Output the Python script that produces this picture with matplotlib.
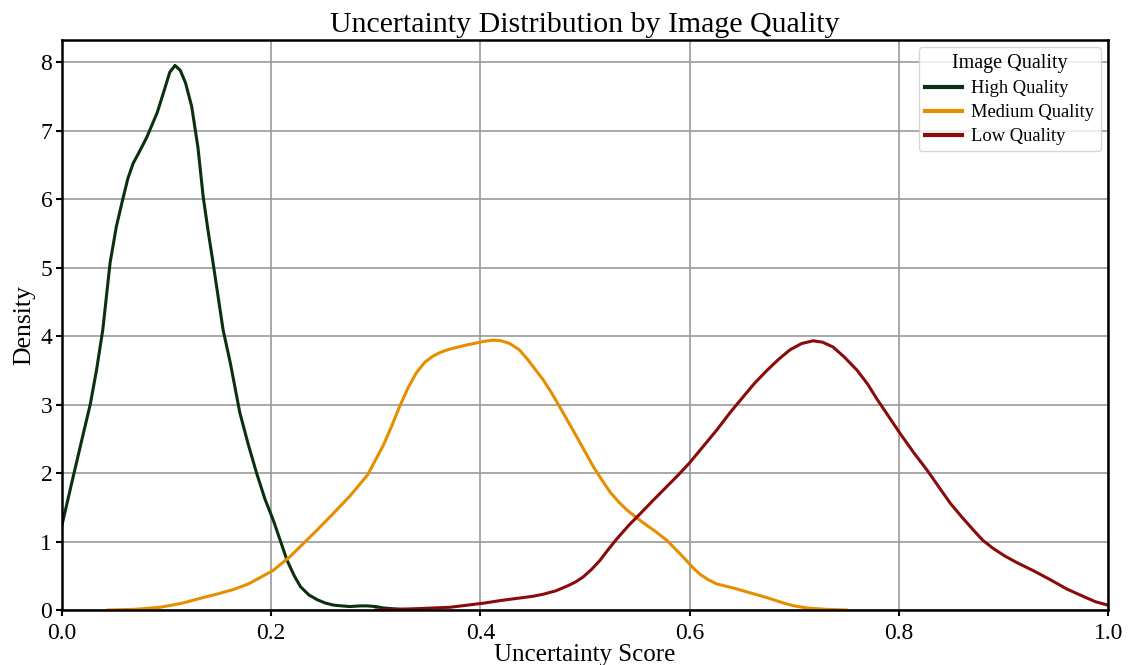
import matplotlib
matplotlib.use("Agg")
from matplotlib import pyplot as plt

# curve points (uncertainty score, density)
high_x = [0.0, 0.01, 0.02, 0.027, 0.033, 0.039, 0.046, 0.052, 0.058, 0.063, 0.068,
          0.075, 0.081, 0.091, 0.098, 0.103, 0.108, 0.113, 0.118, 0.124, 0.130,
          0.135, 0.140, 0.144, 0.149, 0.154, 0.161, 0.170, 0.178, 0.186, 0.194,
          0.202, 0.209, 0.215, 0.222, 0.228, 0.236, 0.244, 0.252, 0.260, 0.275,
          0.285, 0.292, 0.300, 0.307, 0.323, 0.345]
high_y = [1.24, 1.9, 2.55, 3.0, 3.5, 4.09, 5.07, 5.6, 5.99, 6.3, 6.52,
          6.72, 6.9, 7.26, 7.6, 7.85, 7.95, 7.88, 7.7, 7.35, 6.75,
          6.03, 5.5, 5.11, 4.6, 4.09, 3.6, 2.88, 2.42, 2.0, 1.62,
          1.31, 1.0, 0.73, 0.5, 0.34, 0.22, 0.15, 0.1, 0.07, 0.05,
          0.06, 0.06, 0.05, 0.03, 0.01, 0.0]

med_x = [0.044, 0.07, 0.094, 0.115, 0.132, 0.150, 0.164, 0.178, 0.189, 0.202, 0.218,
         0.230, 0.244, 0.260, 0.275, 0.292, 0.307, 0.315, 0.323, 0.331, 0.339, 0.347,
         0.355, 0.363, 0.371, 0.387, 0.403, 0.412, 0.420, 0.428, 0.437, 0.445, 0.452,
         0.460, 0.468, 0.476, 0.492, 0.508, 0.516, 0.524, 0.532, 0.540, 0.555, 0.567,
         0.578, 0.594, 0.603, 0.610, 0.618, 0.626, 0.642, 0.658, 0.674, 0.690, 0.700,
         0.712, 0.730, 0.750]
med_y = [0.0, 0.01, 0.04, 0.1, 0.17, 0.24, 0.3, 0.38, 0.47, 0.58, 0.78,
         0.96, 1.17, 1.42, 1.66, 1.97, 2.4, 2.68, 2.98, 3.25, 3.47, 3.62,
         3.71, 3.77, 3.81, 3.87, 3.92, 3.94, 3.93, 3.89, 3.8, 3.66, 3.52,
         3.36, 3.17, 2.96, 2.53, 2.09, 1.9, 1.72, 1.58, 1.46, 1.28, 1.15,
         1.02, 0.77, 0.62, 0.52, 0.44, 0.38, 0.32, 0.25, 0.18, 0.1, 0.06,
         0.03, 0.01, 0.0]

low_x = [0.30, 0.340, 0.371, 0.387, 0.403, 0.420, 0.435, 0.450, 0.460, 0.472, 0.483,
         0.491, 0.498, 0.506, 0.514, 0.522, 0.531, 0.542, 0.553, 0.565, 0.578,
         0.589, 0.600, 0.613, 0.626, 0.638, 0.651, 0.662, 0.674, 0.685, 0.696,
         0.707, 0.718, 0.727, 0.737, 0.748, 0.760, 0.770, 0.779, 0.790, 0.801,
         0.814, 0.827, 0.838, 0.849, 0.860, 0.871, 0.880, 0.890, 0.901, 0.913,
         0.929, 0.945, 0.960, 0.976, 0.988, 1.0]
low_y = [0.0, 0.02, 0.04, 0.07, 0.1, 0.14, 0.17, 0.2, 0.23, 0.28, 0.35,
         0.41, 0.48, 0.59, 0.72, 0.88, 1.05, 1.24, 1.41, 1.6, 1.8,
         1.97, 2.15, 2.39, 2.63, 2.87, 3.11, 3.31, 3.5, 3.66, 3.8,
         3.89, 3.93, 3.91, 3.84, 3.69, 3.5, 3.3, 3.08, 2.83, 2.58,
         2.3, 2.04, 1.8, 1.56, 1.36, 1.17, 1.02, 0.9, 0.79, 0.69,
         0.57, 0.44, 0.31, 0.2, 0.12, 0.07]

labels = ["High Quality", "Medium Quality", "Low Quality"]
colors = ["#0c300e", "#e58e00", "#8b0a0a"]


def main():
    plt.rcParams["font.family"] = ["Liberation Serif", "DejaVu Serif"]
    fig = plt.figure(figsize=(11.31, 6.65), dpi=100)
    ax = fig.add_axes([0.0548, 0.0827, 0.925, 0.857])

    for xs, ys, lab, c in zip([high_x, med_x, low_x], [high_y, med_y, low_y], labels, colors):
        ax.plot(xs, ys, color=c, lw=2.2, label=lab, solid_joinstyle="round")

    ax.set_xlim(0, 1.0)
    ax.set_ylim(0, 8.32)
    ax.set_xticks([0.0, 0.2, 0.4, 0.6, 0.8, 1.0])
    ax.set_yticks(range(0, 9))
    ax.grid(True, color="#9a9a9a", lw=1.2)
    ax.set_axisbelow(True)
    for s in ax.spines.values():
        s.set_linewidth(1.8)
    ax.tick_params(labelsize=17, width=1.5, length=4)
    ax.tick_params(axis="x", pad=5)
    ax.tick_params(axis="y", pad=3)

    ax.set_title("Uncertainty Distribution by Image Quality", fontsize=21.5, pad=6)
    ax.set_xlabel("Uncertainty Score", fontsize=18, labelpad=0)
    ax.set_ylabel("Density", fontsize=18.5, labelpad=4)

    leg = ax.legend(title="Image Quality", loc="upper right", fontsize=13.3,
                    title_fontsize=14.5, handlelength=2.0, borderpad=0.35,
                    labelspacing=0.38, handletextpad=0.5, borderaxespad=0.4)
    leg.get_frame().set_edgecolor("#cccccc")
    for h in leg.get_lines():
        h.set_linewidth(3)

    fig.savefig("out.png", dpi=100)


if __name__ == '__main__':
    main()
